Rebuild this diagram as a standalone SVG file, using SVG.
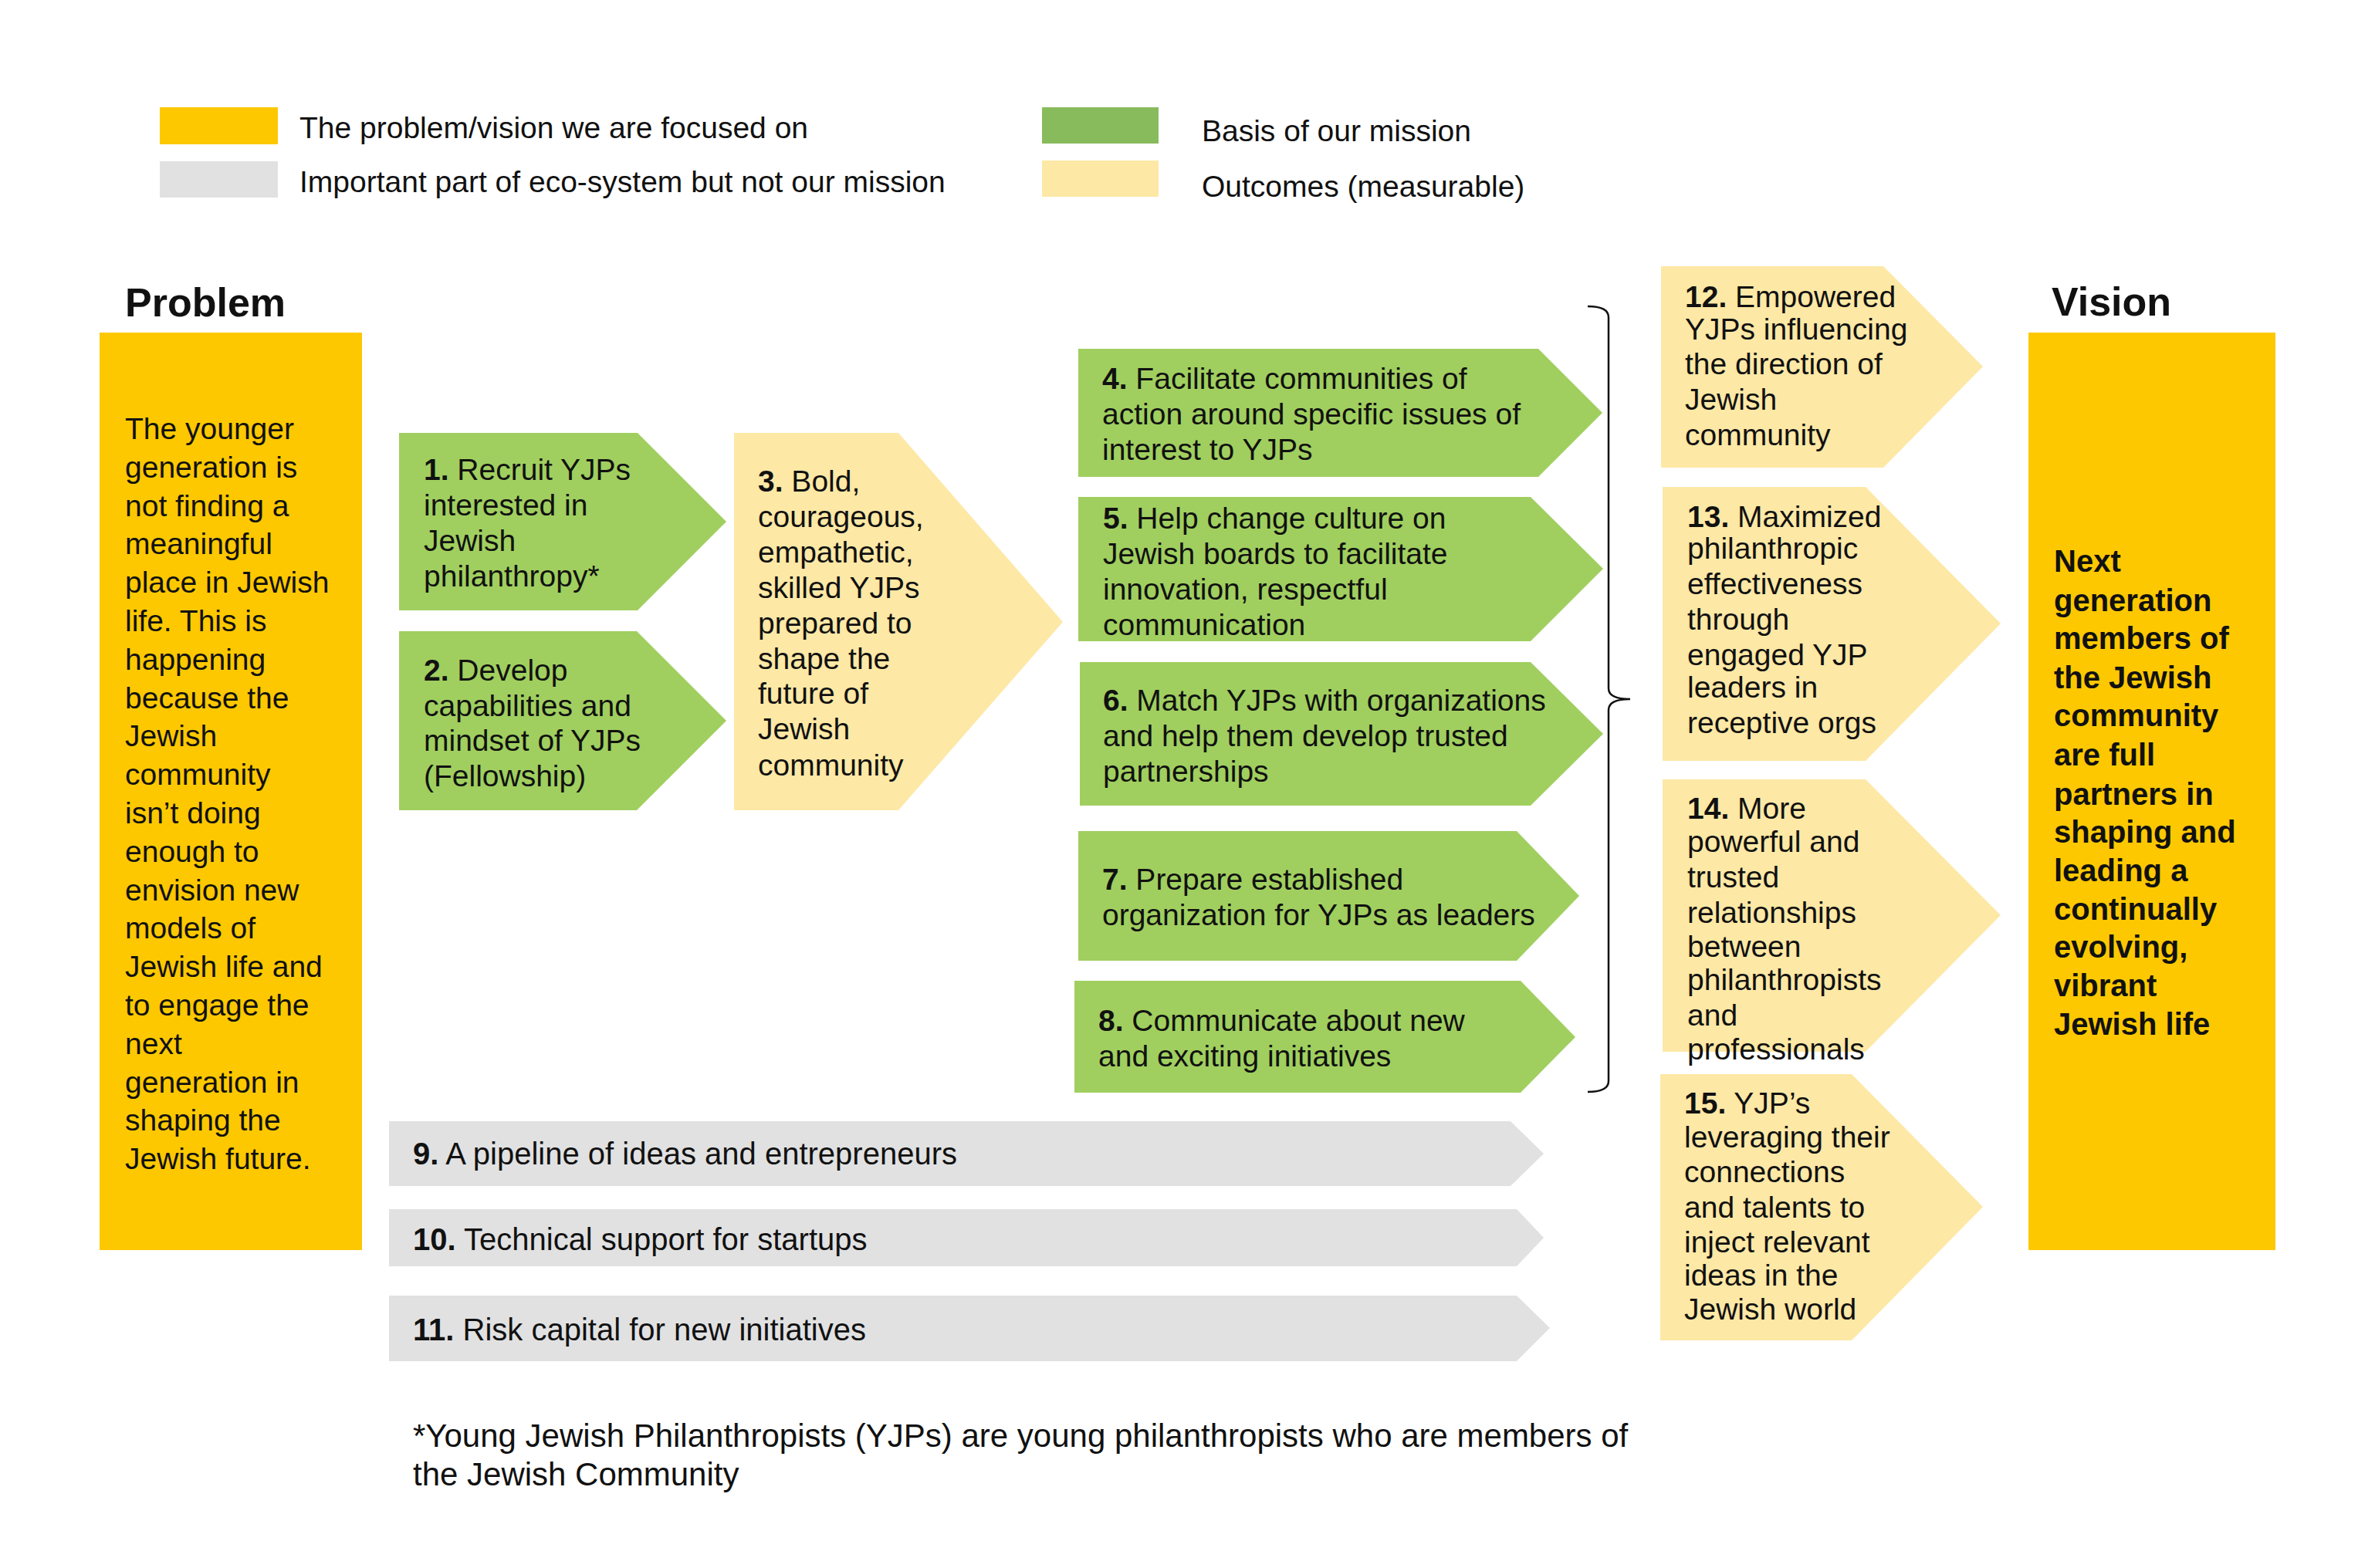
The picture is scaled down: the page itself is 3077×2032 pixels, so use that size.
<svg xmlns="http://www.w3.org/2000/svg" width="3077" height="2032" viewBox="0 0 3077 2032">
<style>
text{font-family:"Liberation Sans",Arial,sans-serif;fill:#111111;}
.t{font-size:39px;}
.tg{font-size:40px;}
.lg{font-size:39px;}
.ttl{font-size:52px;font-weight:bold;}
.vis{font-size:40px;font-weight:bold;}
.fn{font-size:42px;}
.b{font-weight:bold;}
.gold{fill:#FDC800;}
.green{fill:#A0CF5F;}
.light{fill:#FDE8A5;}
.gray{fill:#E1E1E2;}
.lgreen{fill:#88BB5C;}
.brace{fill:none;stroke:#111111;stroke-width:2.5;}
</style>
<rect width="3077" height="2032" fill="#FFFFFF"/>

<g id="legend">
<rect class="gold" x="207" y="139" width="153" height="48"/>
<text class="lg" x="388" y="179">The problem/vision we are focused on</text>
<rect class="gray" x="207" y="209" width="153" height="47"/>
<text class="lg" x="388" y="249">Important part of eco-system but not our mission</text>
<rect class="lgreen" x="1350" y="139" width="151" height="47"/>
<text class="lg" x="1557" y="183">Basis of our mission</text>
<rect class="light" x="1350" y="208" width="151" height="47"/>
<text class="lg" x="1557" y="255">Outcomes (measurable)</text>
</g>

<g id="problem">
<text class="ttl" x="162" y="410">Problem</text>
<rect class="gold" x="129" y="431" width="340" height="1189"/>
<text class="t" x="162" y="569">
<tspan x="162" dy="0">The younger</tspan>
<tspan x="162" dy="49.8">generation is</tspan>
<tspan x="162" dy="49.8">not finding a</tspan>
<tspan x="162" dy="49.8">meaningful</tspan>
<tspan x="162" dy="49.8">place in Jewish</tspan>
<tspan x="162" dy="49.8">life. This is</tspan>
<tspan x="162" dy="49.8">happening</tspan>
<tspan x="162" dy="49.8">because the</tspan>
<tspan x="162" dy="49.8">Jewish</tspan>
<tspan x="162" dy="49.8">community</tspan>
<tspan x="162" dy="49.8">isn’t doing</tspan>
<tspan x="162" dy="49.8">enough to</tspan>
<tspan x="162" dy="49.8">envision new</tspan>
<tspan x="162" dy="49.8">models of</tspan>
<tspan x="162" dy="49.8">Jewish life and</tspan>
<tspan x="162" dy="49.8">to engage the</tspan>
<tspan x="162" dy="49.8">next</tspan>
<tspan x="162" dy="49.8">generation in</tspan>
<tspan x="162" dy="49.8">shaping the</tspan>
<tspan x="162" dy="49.8">Jewish future.</tspan>
</text>
</g>

<g id="node1">
<polygon class="green" points="517,561 826,561 941,676 826,791 517,791"/>
<text class="t"><tspan x="549" y="622"><tspan class="b">1.</tspan> Recruit YJPs</tspan><tspan x="549" y="668">interested in</tspan><tspan x="549" y="714">Jewish</tspan><tspan x="549" y="760">philanthropy*</tspan></text>
</g>

<g id="node2">
<polygon class="green" points="517,818 825,818 941,934 825,1050 517,1050"/>
<text class="t"><tspan x="549" y="882"><tspan class="b">2.</tspan> Develop</tspan><tspan x="549" y="928">capabilities and</tspan><tspan x="549" y="973">mindset of YJPs</tspan><tspan x="549" y="1019">(Fellowship)</tspan></text>
</g>

<g id="node3">
<polygon class="light" points="951,561 1164,561 1377,806 1164,1050 951,1050"/>
<text class="t"><tspan x="982" y="637"><tspan class="b">3.</tspan> Bold,</tspan><tspan x="982" y="683">courageous,</tspan><tspan x="982" y="729">empathetic,</tspan><tspan x="982" y="775">skilled YJPs</tspan><tspan x="982" y="821">prepared to</tspan><tspan x="982" y="867">shape the</tspan><tspan x="982" y="912">future of</tspan><tspan x="982" y="958">Jewish</tspan><tspan x="982" y="1005">community</tspan></text>
</g>

<g id="node4">
<polygon class="green" points="1397,452 1993,452 2076,535 1993,618 1397,618"/>
<text class="t"><tspan x="1428" y="504"><tspan class="b">4.</tspan> Facilitate communities of</tspan><tspan x="1428" y="550">action around specific issues of</tspan><tspan x="1428" y="596">interest to YJPs</tspan></text>
</g>

<g id="node5">
<polygon class="green" points="1397,644 1983,644 2077,737 1983,831 1397,831"/>
<text class="t"><tspan x="1429" y="685"><tspan class="b">5.</tspan> Help change culture on</tspan><tspan x="1429" y="731">Jewish boards to facilitate</tspan><tspan x="1429" y="777">innovation, respectful</tspan><tspan x="1429" y="823">communication</tspan></text>
</g>

<g id="node6">
<polygon class="green" points="1399,858 1983,858 2077,951 1983,1044 1399,1044"/>
<text class="t"><tspan x="1429" y="921"><tspan class="b">6.</tspan> Match YJPs with organizations</tspan><tspan x="1429" y="967">and help them develop trusted</tspan><tspan x="1429" y="1013">partnerships</tspan></text>
</g>

<g id="node7">
<polygon class="green" points="1397,1077 1965,1077 2046,1161 1965,1245 1397,1245"/>
<text class="t"><tspan x="1428" y="1153"><tspan class="b">7.</tspan> Prepare established</tspan><tspan x="1428" y="1199">organization for YJPs as leaders</tspan></text>
</g>

<g id="node8">
<polygon class="green" points="1392,1271 1970,1271 2041,1344 1970,1416 1392,1416"/>
<text class="t"><tspan x="1423" y="1336"><tspan class="b">8.</tspan> Communicate about new</tspan><tspan x="1423" y="1382">and exciting initiatives</tspan></text>
</g>

<g id="node9">
<polygon class="gray" points="504,1453 1957,1453 2000,1495 1957,1537 504,1537"/>
<text class="tg" x="535" y="1509"><tspan class="b">9.</tspan> A pipeline of ideas and entrepreneurs</text>
</g>

<g id="node10">
<polygon class="gray" points="504,1567 1965,1567 2000,1604 1965,1641 504,1641"/>
<text class="tg" x="535" y="1620"><tspan class="b">10.</tspan> Technical support for startups</text>
</g>

<g id="node11">
<polygon class="gray" points="504,1679 1965,1679 2008,1721 1965,1764 504,1764"/>
<text class="tg" x="535" y="1737"><tspan class="b">11.</tspan> Risk capital for new initiatives</text>
</g>

<g id="node12">
<polygon class="light" points="2152,345 2440,345 2569,475 2440,606 2152,606"/>
<text class="t"><tspan x="2183" y="398"><tspan class="b">12.</tspan> Empowered</tspan><tspan x="2183" y="440">YJPs influencing</tspan><tspan x="2183" y="485">the direction of</tspan><tspan x="2183" y="531">Jewish</tspan><tspan x="2183" y="577">community</tspan></text>
</g>

<g id="node13">
<polygon class="light" points="2154,631 2417,631 2592,808 2417,986 2154,986"/>
<text class="t"><tspan x="2186" y="683"><tspan class="b">13.</tspan> Maximized</tspan><tspan x="2186" y="724">philanthropic</tspan><tspan x="2186" y="770">effectiveness</tspan><tspan x="2186" y="816">through</tspan><tspan x="2186" y="862">engaged YJP</tspan><tspan x="2186" y="904">leaders in</tspan><tspan x="2186" y="950">receptive orgs</tspan></text>
</g>

<g id="node14">
<polygon class="light" points="2154,1010 2417,1010 2592,1186 2417,1363 2154,1363"/>
<text class="t"><tspan x="2186" y="1061"><tspan class="b">14.</tspan> More</tspan><tspan x="2186" y="1104">powerful and</tspan><tspan x="2186" y="1150">trusted</tspan><tspan x="2186" y="1196">relationships</tspan><tspan x="2186" y="1240">between</tspan><tspan x="2186" y="1283">philanthropists</tspan><tspan x="2186" y="1329">and</tspan><tspan x="2186" y="1373">professionals</tspan></text>
</g>

<g id="node15">
<polygon class="light" points="2151,1392 2399,1392 2569,1564 2399,1737 2151,1737"/>
<text class="t"><tspan x="2182" y="1443"><tspan class="b">15.</tspan> YJP’s</tspan><tspan x="2182" y="1487">leveraging their</tspan><tspan x="2182" y="1532">connections</tspan><tspan x="2182" y="1578">and talents to</tspan><tspan x="2182" y="1623">inject relevant</tspan><tspan x="2182" y="1666">ideas in the</tspan><tspan x="2182" y="1710">Jewish world</tspan></text>
</g>

<g id="vision">
<text class="ttl" x="2658" y="409">Vision</text>
<rect class="gold" x="2628" y="431" width="320" height="1189"/>
<text class="vis">
<tspan x="2661" y="741">Next</tspan>
<tspan x="2661" y="792">generation</tspan>
<tspan x="2661" y="841">members of</tspan>
<tspan x="2661" y="892">the Jewish</tspan>
<tspan x="2661" y="941">community</tspan>
<tspan x="2661" y="992">are full</tspan>
<tspan x="2661" y="1043">partners in</tspan>
<tspan x="2661" y="1092">shaping and</tspan>
<tspan x="2661" y="1142">leading a</tspan>
<tspan x="2661" y="1192">continually</tspan>
<tspan x="2661" y="1241">evolving,</tspan>
<tspan x="2661" y="1291">vibrant</tspan>
<tspan x="2661" y="1341">Jewish life</tspan>
</text>
</g>

<g id="connectors">
<path class="brace" d="M2057,397 Q2084,397 2084,411 L2084,892 Q2084,906 2112,906 Q2084,906 2084,920 L2084,1401 Q2084,1415 2057,1415"/>
</g>

<g id="footnote">
<text class="fn"><tspan x="535" y="1875">*Young Jewish Philanthropists (YJPs) are young philanthropists who are members of</tspan><tspan x="535" y="1925">the Jewish Community</tspan></text>
</g>
</svg>
